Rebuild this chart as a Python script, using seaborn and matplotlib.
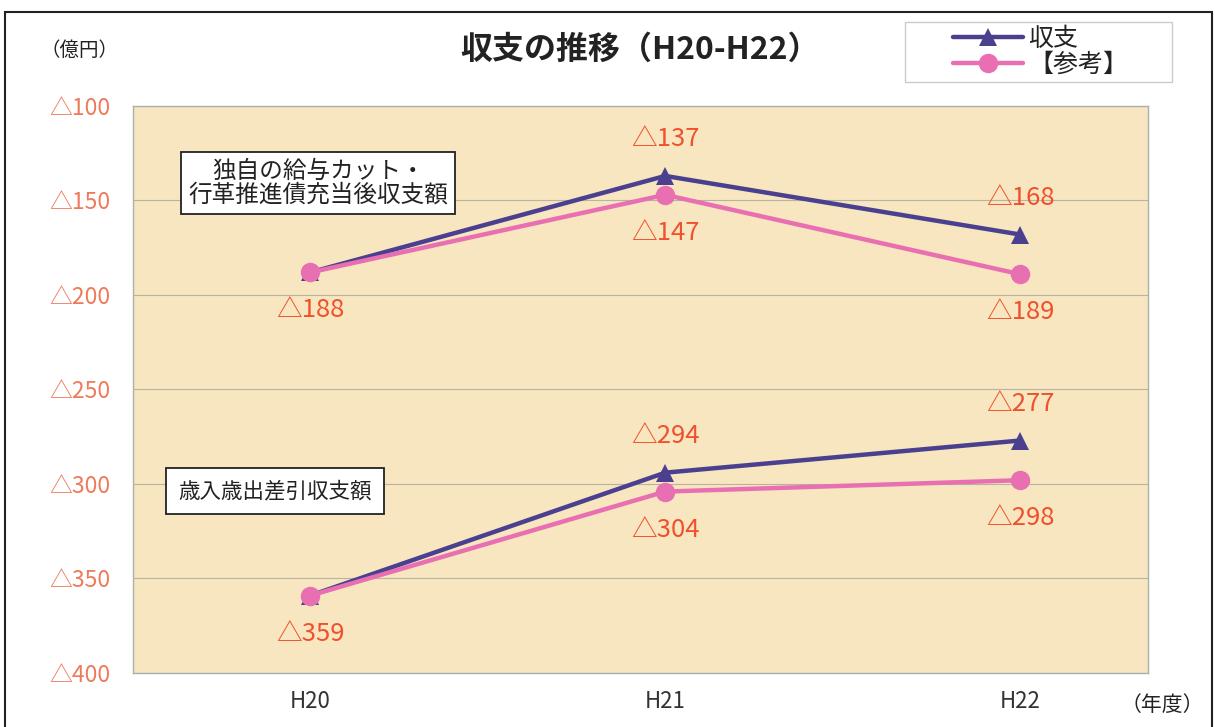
import matplotlib
matplotlib.use("Agg")
import matplotlib.pyplot as plt
import seaborn as sns
import pandas as pd
from matplotlib.patches import Rectangle

sns.set_theme(style="white")
plt.rcParams['font.family'] = ['Noto Sans CJK JP', 'DejaVu Sans']

years = ["H20", "H21", "H22"]
series_names = ["収支", "【参考】"]
upper_shushi = [-188, -137, -168]
upper_sanko = [-188, -147, -189]
lower_shushi = [-359, -294, -277]
lower_sanko = [-359, -304, -298]
yticks = [-100, -150, -200, -250, -300, -350, -400]
ytick_labels = ["△100", "△150", "△200", "△250", "△300", "△350", "△400"]

rows = []
for grp, a, b in [("upper", upper_shushi, upper_sanko), ("lower", lower_shushi, lower_sanko)]:
    for i, y in enumerate(years):
        rows.append({"group": grp, "series": series_names[0], "year": i, "value": a[i]})
        rows.append({"group": grp, "series": series_names[1], "year": i, "value": b[i]})
df = pd.DataFrame(rows)

navy = "#4b3f8f"
pink = "#e96fb3"
lab_red = "#f0502c"
tick_col = "#ee7a5a"
palette = {series_names[0]: navy, series_names[1]: pink}

fig = plt.figure(figsize=(12.15, 7.27), dpi=100)
fig.patch.set_facecolor("white")
ax = fig.add_axes([133/1215, 1-673/727, (1148-133)/1215, (673-106)/727])
ax.set_facecolor("#f7e6bf")

for grp in ["upper", "lower"]:
    sub = df[df.group == grp]
    for s, mk, ms in [(series_names[0], "^", 13), (series_names[1], "o", 14)]:
        d = sub[sub.series == s]
        sns.lineplot(data=d, x="year", y="value", color=palette[s], marker=mk,
                     markersize=ms, markeredgewidth=0, linewidth=3.2, ax=ax,
                     label=s if grp == "upper" else None, legend=False, zorder=3)

ax.set_ylim(-400, -100)
ax.set_xlim(-0.5, (1148-310)/355)
ax.set_yticks(yticks)
ax.set_yticklabels(ytick_labels, color=tick_col, fontsize=16.5)
ax.set_xticks(range(len(years)))
ax.set_xticklabels(years, color="#333333", fontsize=16)
ax.tick_params(axis="both", length=0)
ax.tick_params(axis="y", pad=16)
ax.tick_params(axis="x", pad=12)
ax.set_xlabel("")
ax.set_ylabel("")
ax.grid(axis="y", color="#b9b3a3", linewidth=0.8)
ax.grid(axis="x", visible=False)
for sp in ax.spines.values():
    sp.set_color("#aab0b0")
    sp.set_linewidth(1.0)

def lab(x, v, above):
    txt = "△" + str(-v)
    ax.annotate(txt, (x, v), xytext=(0, 17 if above else -18), textcoords="offset points",
                ha="center", va="bottom" if above else "top", color=lab_red, fontsize=18.5, zorder=5)

# upper group
lab(0, upper_shushi[0], False)
lab(1, upper_shushi[1], True)
lab(1, upper_sanko[1], False)
lab(2, upper_shushi[2], True)
lab(2, upper_sanko[2], False)
# lower group
lab(0, lower_shushi[0], False)
lab(1, lower_shushi[1], True)
lab(1, lower_sanko[1], False)
lab(2, lower_shushi[2], True)
lab(2, lower_sanko[2], False)

box = dict(boxstyle="square,pad=0.3", facecolor="white", edgecolor="#222222", linewidth=1.3)
ax.text((318-133)/1015, 1-(183-106)/567, "独自の給与カット・\n行革推進債充当後収支額",
        transform=ax.transAxes, ha="center", va="center", fontsize=17, color="#222222",
        bbox=box, linespacing=1.05, zorder=6)
ax.text((275-133)/1015, 1-(491-106)/567, "歳入歳出差引収支額",
        transform=ax.transAxes, ha="center", va="center", fontsize=15.5, color="#222222",
        bbox=dict(boxstyle="square,pad=0.55", facecolor="white", edgecolor="#222222", linewidth=1.3), zorder=6)

fig.patches.append(Rectangle((905/1215, 1-82/727), (1172-905)/1215, 60/727, transform=fig.transFigure,
                             facecolor="white", edgecolor="#cccccc", linewidth=1.0, zorder=-1))
leg = ax.legend(loc="upper left", bbox_to_anchor=(948/1215, 1-21/727), bbox_transform=fig.transFigure,
                fontsize=18, frameon=False, handlelength=2.8, borderpad=0.2,
                labelspacing=0.0, handletextpad=0.2, borderaxespad=0)
for t in leg.get_texts():
    t.set_color("#222222")

fig.text(640/1215, 1-50/727, "収支の推移（H20-H22）", ha="center", va="center",
         fontsize=23, fontweight="bold", color="#222222")
fig.text(80/1215, 1-50/727, "（億円）", ha="center", va="center", fontsize=14, color="#222222")
fig.text(1162/1215, 1-705/727, "（年度）", ha="center", va="center", fontsize=15, color="#222222")

fig.patches.append(Rectangle((5/1215, -0.02), (1212-5)/1215, 1.02-12/727, transform=fig.transFigure,
                             fill=False, edgecolor="#222222", linewidth=1.5))

fig.savefig("out.png", dpi=100)
